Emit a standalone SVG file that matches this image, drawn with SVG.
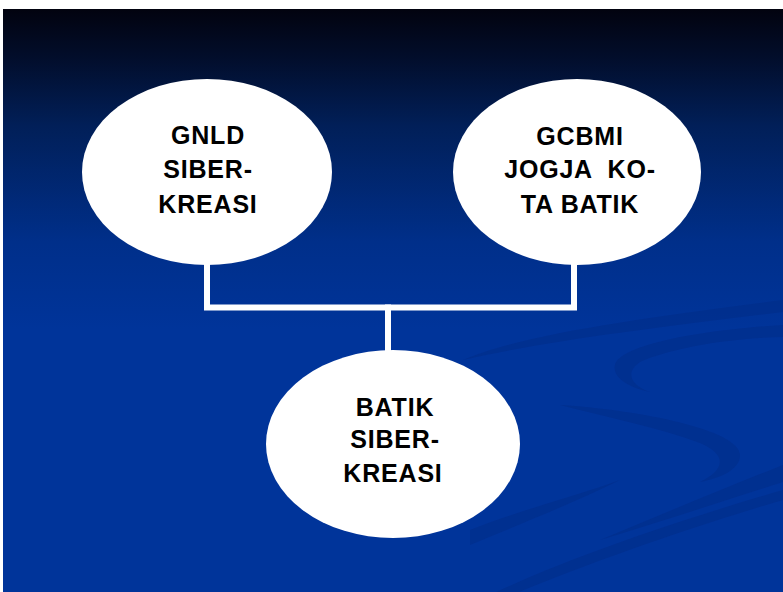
<svg xmlns="http://www.w3.org/2000/svg" width="783" height="592" viewBox="0 0 783 592">
<defs>
<linearGradient id="bg" x1="0" y1="0" x2="0" y2="1">
<stop offset="0" stop-color="#02030f"/>
<stop offset="0.08" stop-color="#020d2a"/>
<stop offset="0.2" stop-color="#011f58"/>
<stop offset="0.4" stop-color="#002f8a"/>
<stop offset="0.55" stop-color="#00349a"/>
<stop offset="1" stop-color="#00349a"/>
</linearGradient>
<style>
.node ellipse{fill:#ffffff}
.node text{font-family:"Liberation Sans",Arial,sans-serif;font-weight:bold;font-size:25px;fill:#000000;text-anchor:middle;letter-spacing:0.8px}
.conn{stroke:#ffffff;stroke-width:6;fill:none;stroke-linecap:square}
.sw{fill:#002c86;opacity:0.5}
</style>
</defs>
<rect x="0" y="0" width="783" height="592" fill="#ffffff"/>
<rect x="3" y="9" width="780" height="583" fill="url(#bg)"/>
<g id="swooshes">
<path class="sw" d="M463,360 C520,335 640,318 783,300 L783,312 C650,328 540,342 463,360 Z"/>
<path class="sw" d="M783,325 C700,330 620,345 615,365 C612,378 630,388 650,392 C630,385 625,372 640,362 C670,348 730,338 783,337 Z"/>
<path class="sw" d="M560,405 C640,410 740,430 740,455 C740,470 720,478 700,482 C725,470 728,455 700,443 C660,428 610,418 560,405 Z"/>
<path class="sw" d="M600,540 C660,515 720,490 783,465 L783,482 C720,502 660,522 600,540 Z"/>
<path class="sw" d="M470,530 C520,510 580,495 620,480 C580,500 530,520 470,545 Z"/>
<path class="sw" d="M480,600 C560,560 680,520 783,490 L783,500 C680,530 570,570 500,600 Z"/>
</g>
<g id="connectors">
<path class="conn" d="M207,264 L207,307.5 L574,307.5 L574,264"/>
<path class="conn" d="M388,307.5 L388,352"/>
</g>
<g id="node-gnld" class="node">
<ellipse cx="207" cy="172" rx="125" ry="93"/>
<text x="208" y="144">GNLD</text>
<text x="208" y="178">SIBER-</text>
<text x="208" y="213">KREASI</text>
</g>
<g id="node-gcbmi" class="node">
<ellipse cx="577" cy="172" rx="124" ry="93"/>
<text x="580" y="145">GCBMI</text>
<text x="580" y="178" xml:space="preserve">JOGJA  KO-</text>
<text x="580" y="213">TA BATIK</text>
</g>
<g id="node-batik" class="node">
<ellipse cx="393" cy="444" rx="127" ry="94"/>
<text x="395" y="416">BATIK</text>
<text x="395" y="448">SIBER-</text>
<text x="393" y="482">KREASI</text>
</g>
</svg>
